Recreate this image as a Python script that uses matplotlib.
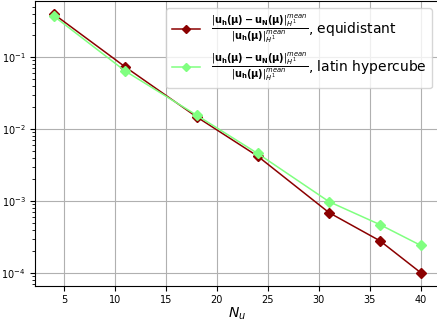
import matplotlib
matplotlib.use("Agg")
import matplotlib.pyplot as plt

# Number of reduced basis functions
n_u = [4, 11, 18, 24, 31, 36, 40]

# Mean relative H1 errors for the two sampling strategies
err_equidistant = [0.395, 0.073, 0.0148, 0.0042, 0.00069, 0.00028, 0.000101]
err_latin = [0.37, 0.064, 0.0156, 0.00458, 0.00098, 0.00047, 0.000242]

ratio = (r"$\frac{|\mathbf{u_h(\mu) - u_N(\mu)}|_{H^1}^{mean}}"
         r"{|\mathbf{u_h(\mu)}|_{H^1}^{mean}}$")
labels = [ratio + ", equidistant", ratio + ", latin hypercube"]

fig = plt.figure(figsize=(4.37, 3.26), dpi=100)
ax = fig.add_axes([0.081, 0.1236, 0.924, 0.873])

ax.semilogy(n_u, err_equidistant, color="#8b0000", marker="D",
            markersize=5, linewidth=1.1, label=labels[0])
ax.semilogy(n_u, err_latin, color="#80ff80", marker="D",
            markersize=5, linewidth=1.1, label=labels[1])

ax.grid(True, which="major", color="#b0b0b0", linewidth=0.8)
ax.set_xticks([5, 10, 15, 20, 25, 30, 35, 40])
ax.tick_params(labelsize=7)
ax.set_xlabel(r"$N_u$", fontsize=10, labelpad=0)
ax.legend(loc="upper right", fontsize=10, markerscale=0.9)

fig.savefig("out.png", dpi=100)
